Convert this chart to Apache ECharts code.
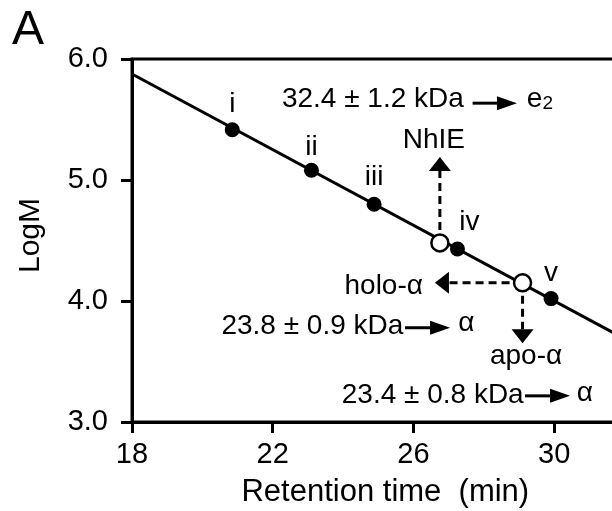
<!DOCTYPE html>
<html>
<head>
<meta charset="utf-8">
<script src="https://cdn.jsdelivr.net/npm/echarts@6/dist/echarts.min.js"></script>
<style>
  html, body { margin: 0; padding: 0; background: #fff; }
  #chart { width: 612px; height: 511px; }
</style>
</head>
<body>
<div id="chart"></div>
<script>
// calibration standards (filled dots)
const stdNames = ["i", "ii", "iii", "iv", "v"];
const stdTime = [20.85, 23.10, 24.88, 27.25, 29.91];
const stdLogM = [5.415, 5.08, 4.80, 4.43, 4.02];

// samples (open dots)
const sampleTime = [26.75, 29.10];
const sampleLogM = [4.48, 4.15];

// calibration fit line, end points
const fitTime = [18, 32];
const fitLogM = [5.876, 3.688];

// dashed arrows: [fromTime, fromLogM, toTime, toLogM]
const dashedArrows = [
  [26.75, 4.48, 26.75, 5.19],
  [29.10, 4.15, 26.61, 4.15],
  [29.10, 4.15, 29.10, 3.65]
];
// solid arrows next to the mass notes
const solidArrows = [
  [27.68, 5.635, 28.94, 5.635],
  [25.76, 3.779, 27.04, 3.779],
  [29.17, 3.216, 30.45, 3.216]
];

// text notes in data coordinates
const noteText = ["32.4 ± 1.2 kDa", "{e|e}{s|2}", "NhIE", "holo-α", "23.8 ± 0.9 kDa", "α", "apo-α", "23.4 ± 0.8 kDa", "α"];
const noteTime = [22.26, 29.22, 26.58, 26.27, 20.54, 27.27, 29.20, 23.96, 30.64];
const noteLogM = [5.666, 5.666, 5.325, 4.119, 3.787, 3.812, 3.547, 3.224, 3.240];

const xTicks = [18, 22, 26, 30];
const yTicks = [3.0, 4.0, 5.0, 6.0];

const FONT = "Liberation Sans";
const noteSide = ["right", "right", "inside", "left", "right", "right", "inside", "right", "right"];
const labelOffsets = [[0, -26], [0, -23], [0, -27], [12, -27], [0, -25]];

const chart = echarts.init(document.getElementById("chart"));

function arrowRenderer(dashed, headLen, headHalf) {
  return function (params, api) {
    const p1 = api.coord([api.value(0), api.value(1)]);
    const p2 = api.coord([api.value(2), api.value(3)]);
    const dx = p2[0] - p1[0];
    const dy = p2[1] - p1[1];
    const len = Math.sqrt(dx * dx + dy * dy);
    const ux = dx / len;
    const uy = dy / len;
    const bx = p2[0] - ux * headLen;
    const by = p2[1] - uy * headLen;
    return {
      type: "group",
      children: [
        {
          type: "line",
          shape: { x1: p1[0], y1: p1[1], x2: bx, y2: by },
          style: { stroke: "#000", lineWidth: 3, lineDash: dashed ? [8, 5] : null }
        },
        {
          type: "polygon",
          shape: {
            points: [
              [p2[0], p2[1]],
              [bx - uy * headHalf, by + ux * headHalf],
              [bx + uy * headHalf, by - ux * headHalf]
            ]
          },
          style: { fill: "#000" }
        }
      ]
    };
  };
}

const option = {
  animation: false,
  backgroundColor: "#fff",
  textStyle: { fontFamily: FONT, color: "#000" },
  graphic: [
    {
      type: "text",
      left: 12,
      top: 7,
      style: { text: "A", font: "48px " + FONT, fill: "#000" }
    }
  ],
  grid: {
    left: 132,
    top: 59,
    width: 492.6,
    height: 363,
    outerBoundsMode: "none",
    show: true,
    borderColor: "#000",
    borderWidth: 3,
    backgroundColor: "transparent"
  },
  xAxis: {
    type: "value",
    min: 18,
    max: 32,
    interval: 4,
    name: "Retention time  (min)",
    nameLocation: "middle",
    nameGap: 55,
    nameTextStyle: { fontSize: 31, color: "#000", fontFamily: FONT, padding: [0, 0, 0, 14] },
    axisLine: { lineStyle: { color: "#000", width: 3 } },
    axisTick: { show: true, length: 11, lineStyle: { color: "#000", width: 3 } },
    axisLabel: {
      fontSize: 29,
      color: "#000",
      margin: 18,
      formatter: (v) => (xTicks.includes(v) ? String(v) : "")
    },
    splitLine: { show: false }
  },
  yAxis: {
    type: "value",
    min: 3,
    max: 6,
    interval: 1,
    name: "LogM",
    nameLocation: "middle",
    nameGap: 86,
    nameTextStyle: { fontSize: 30, color: "#000", fontFamily: FONT, padding: [0, 0, 0, 10] },
    axisLine: { lineStyle: { color: "#000", width: 3 } },
    axisTick: { show: true, length: 11, lineStyle: { color: "#000", width: 3 } },
    axisLabel: {
      fontSize: 29,
      color: "#000",
      margin: 24,
      formatter: (v) => (yTicks.includes(v) ? v.toFixed(1) : "")
    },
    splitLine: { show: false }
  },
  series: [
    {
      type: "line",
      data: fitTime.map((t, i) => [t, fitLogM[i]]),
      symbol: "none",
      lineStyle: { color: "#000", width: 3 },
      z: 2
    },
    {
      type: "custom",
      renderItem: arrowRenderer(true, 14, 11),
      data: dashedArrows,
      z: 3
    },
    {
      type: "custom",
      renderItem: arrowRenderer(false, 20, 7),
      data: solidArrows,
      z: 3
    },
    {
      type: "scatter",
      symbol: "circle",
      symbolSize: 15,
      itemStyle: { color: "#000", opacity: 1 },
      data: stdNames.map((n, i) => ({
        name: n,
        value: [stdTime[i], stdLogM[i]],
        label: { offset: labelOffsets[i] }
      })),
      label: {
        show: true,
        position: "inside",
        formatter: (p) => p.name,
        fontSize: 28,
        color: "#000",
        fontFamily: FONT
      },
      z: 4
    },
    {
      type: "scatter",
      symbol: "circle",
      symbolSize: 17,
      itemStyle: { color: "#fff", borderColor: "#000", borderWidth: 2.5, opacity: 1 },
      data: sampleTime.map((t, i) => [t, sampleLogM[i]]),
      z: 5
    },
    {
      type: "scatter",
      symbolSize: 0.1,
      itemStyle: { color: "rgba(0,0,0,0)", opacity: 1 },
      data: noteText.map((s, i) => ({
        name: s,
        value: [noteTime[i], noteLogM[i]],
        label: { position: noteSide[i] }
      })),
      label: {
        show: true,
        distance: 0,
        formatter: (p) => p.name,
        fontSize: 28,
        color: "#000",
        fontFamily: FONT,
        rich: {
          e: { fontSize: 28, color: "#000", fontFamily: FONT },
          s: { fontSize: 19, lineHeight: 17, verticalAlign: "bottom", color: "#000", fontFamily: FONT }
        }
      },
      z: 6
    }
  ]
};

chart.setOption(option);
</script>
</body>
</html>
